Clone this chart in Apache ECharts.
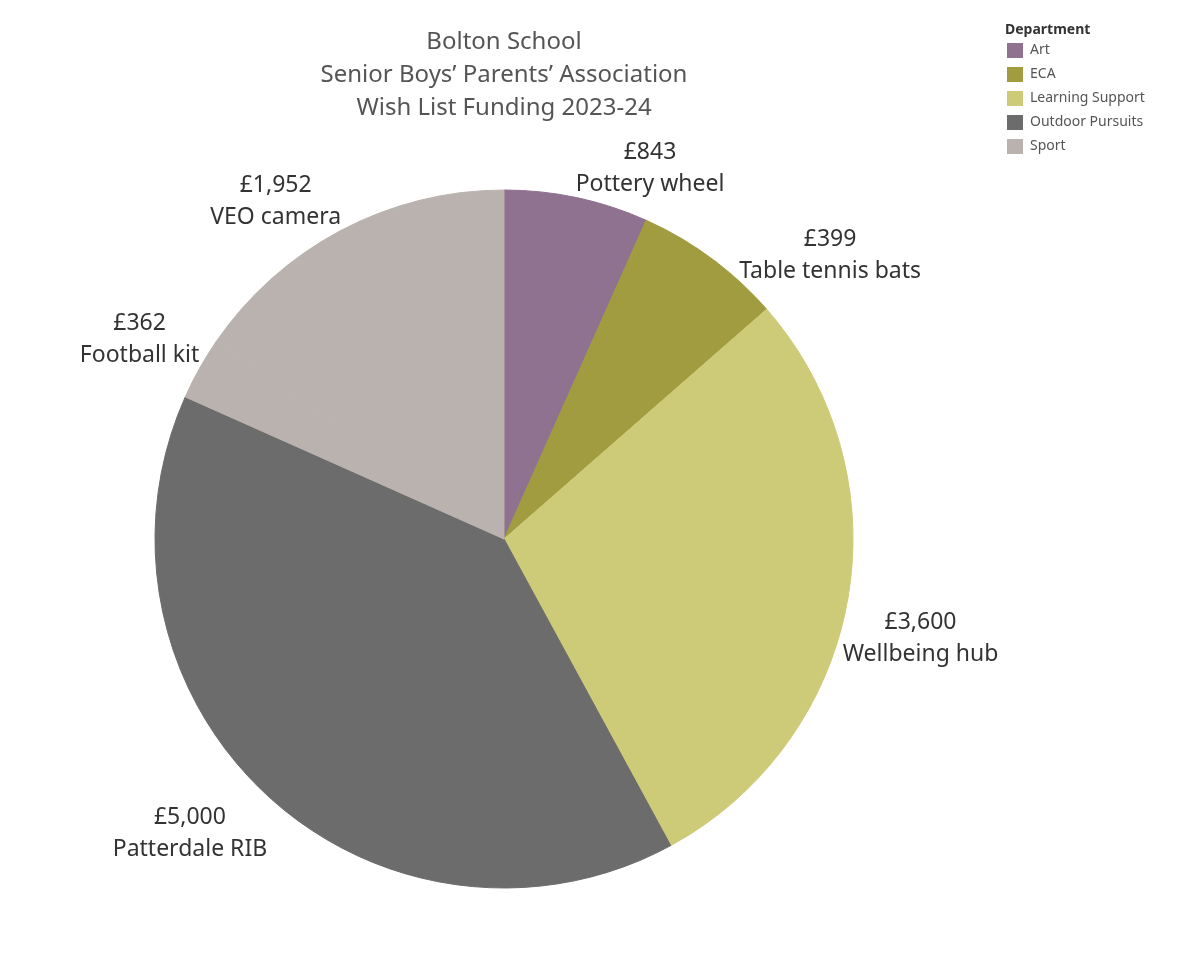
<!DOCTYPE html>
<html lang="en">

<head>
    <meta charset="UTF-8">
    <title>Wish List Funding 2023-24</title>
    <script src="https://cdn.jsdelivr.net/npm/echarts@6/dist/echarts.min.js"></script>
    <style>
        * {
            padding: 0;
            margin: 0;
        }

        body {
            background: #fff;
        }

        #main {
            width: 1200px;
            height: 960px;
        }
    </style>
</head>

<body>
    <div id="main"></div>

    <script>
        // items clockwise from 12 o'clock; the second ECA item has no label in the picture
        var items = ['Pottery wheel', '', 'Table tennis bats', 'Wellbeing hub', 'Patterdale RIB', 'Football kit', 'VEO camera'];
        var amounts = [843, 470, 399, 3600, 5000, 362, 1952];
        var itemDept = ['Art', 'ECA', 'ECA', 'Learning Support', 'Outdoor Pursuits', 'Sport', 'Sport'];

        var departments = ['Art', 'ECA', 'Learning Support', 'Outdoor Pursuits', 'Sport'];
        var deptColors = ['#8f7190', '#a09c3f', '#cecb78', '#6c6c6c', '#bab2ae'];

        var cx = 504, cy = 539, R = 349;

        function money(v) {
            return '£' + String(v).replace(/\B(?=(\d{3})+(?!\d))/g, ',');
        }

        var total = 0;
        for (var i = 0; i < amounts.length; i++) total += amounts[i];

        // mid angle of each slice (radians, clockwise from top)
        var midAngle = [];
        var run = 0;
        for (var i = 0; i < amounts.length; i++) {
            midAngle.push((run + amounts[i] / 2) / total * Math.PI * 2);
            run += amounts[i];
        }

        var pieData = [];
        for (var i = 0; i < items.length; i++) {
            var col = deptColors[departments.indexOf(itemDept[i])];
            var d = {
                name: items[i],
                value: amounts[i],
                // border in the fill colour hides the seam between same-colour slices
                itemStyle: { color: col, borderColor: col, borderWidth: 1 }
            };
            if (!items[i]) d.label = { show: false };
            pieData.push(d);
        }

        var legendData = [];
        for (var i = 0; i < departments.length; i++) {
            legendData.push({ name: departments[i], value: 1, itemStyle: { color: deptColors[i] } });
        }

        var myChart = echarts.init(document.getElementById('main'));

        var option = {
            animation: false,
            backgroundColor: '#ffffff',
            textStyle: { fontFamily: 'Noto Sans' },
            title: [{
                text: 'Bolton School\nSenior Boys’ Parents’ Association\nWish List Funding 2023-24',
                left: cx,
                top: 26,
                padding: 0,
                textAlign: 'center',
                textStyle: {
                    fontFamily: 'Noto Sans',
                    fontSize: 24,
                    fontWeight: 'normal',
                    lineHeight: 33,
                    color: '#555555'
                }
            }, {
                text: 'Department',
                left: 1005,
                top: 21,
                padding: 0,
                textStyle: {
                    fontFamily: 'Noto Sans',
                    fontSize: 14,
                    fontWeight: 'bold',
                    lineHeight: 18,
                    color: '#333333'
                }
            }],
            legend: {
                orient: 'vertical',
                left: 1007,
                top: 43,
                padding: 0,
                itemWidth: 16,
                itemHeight: 15,
                itemGap: 9,
                icon: 'rect',
                selectedMode: false,
                data: departments,
                textStyle: {
                    fontFamily: 'Noto Sans',
                    fontSize: 14,
                    lineHeight: 15,
                    color: '#555555',
                    padding: [0, 0, 0, 2]
                }
            },
            series: [{
                type: 'pie',
                name: 'Wish list',
                center: [cx, cy],
                radius: R,
                startAngle: 90,
                clockwise: true,
                avoidLabelOverlap: false,
                emphasis: { disabled: true },
                label: {
                    show: true,
                    position: 'outside',
                    formatter: function (p) {
                        return money(p.value) + '\n' + p.name;
                    },
                    fontFamily: 'Noto Sans',
                    fontSize: 23,
                    lineHeight: 32,
                    color: '#333333',
                    align: 'center'
                },
                labelLine: { show: false, length: 0, length2: 0 },
                labelLayout: function (p) {
                    var a = midAngle[p.dataIndex];
                    var s = Math.sin(a), c = Math.cos(a);
                    var ax = cx + R * s, ay = cy - R * c;
                    var w = p.labelRect.width, h = p.labelRect.height;
                    return {
                        x: ax + (s >= 0 ? w / 2 - 5 * Math.abs(s) : -w / 2),
                        y: ay + (c >= 0 ? -h / 2 + 3 : h / 2 + 6),
                        align: 'center',
                        verticalAlign: 'middle'
                    };
                },
                data: pieData
            }, {
                // only feeds the department legend
                type: 'pie',
                name: 'Department',
                center: [cx, cy],
                radius: [0, 0],
                silent: true,
                label: { show: false },
                labelLine: { show: false },
                data: legendData
            }]
        };

        myChart.setOption(option);
    </script>

</body>

</html>
